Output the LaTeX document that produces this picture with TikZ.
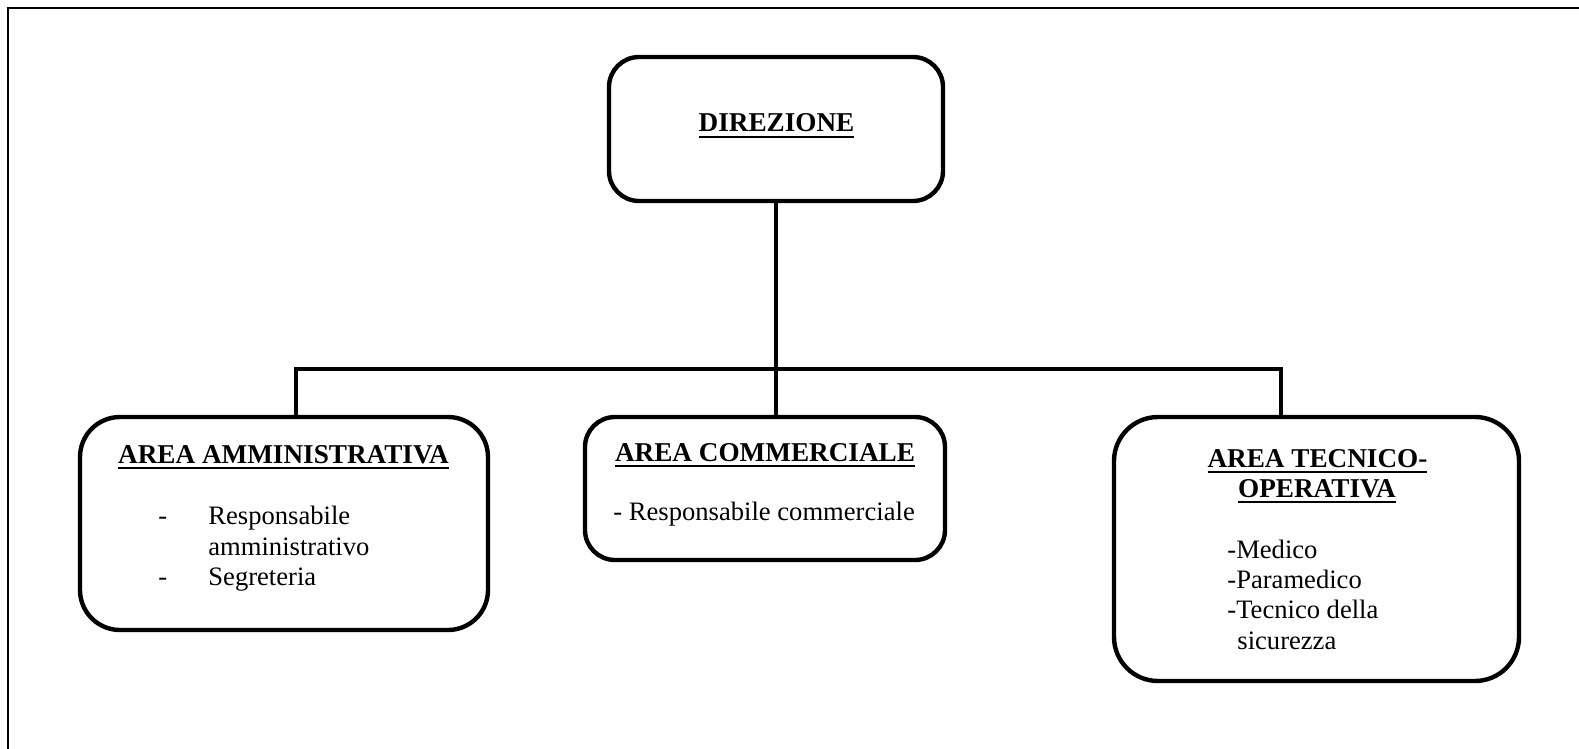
\documentclass[tikz,border=0pt]{standalone}
\usepackage{fontspec}
\setmainfont{Liberation Serif}
\newcommand\ulin[1]{\leavevmode\setbox0=\hbox{#1}\rlap{\copy0}\rule[-2.8pt]{\wd0}{1pt}}
\begin{document}
\begin{tikzpicture}[x=0.5pt,y=-0.5pt,
  orgbox/.style={draw, line width=2.2pt, inner sep=0pt},
  txt/.style={font=\fontsize{13.3}{15.25}\selectfont, inner sep=0pt},
  title/.style={txt, font=\fontsize{13.6}{15.25}\selectfont\bfseries, anchor=base},
  item/.style={txt, anchor=base west},
  link/.style={line width=2.4pt}]
\useasboundingbox (0,0) rectangle (1579,749);
% frame (top and left edges only)
\coordinate (fbl) at (8,749);
\coordinate (ftl) at (8,8);
\coordinate (ftr) at (1579,8);
\draw[line width=1.4pt] (fbl) -- (ftl) -- (ftr);
% boxes
\node[orgbox, rounded corners=15pt, minimum width=167pt, minimum height=72pt] (dir) at (776,129) {};
\node[orgbox, rounded corners=20pt, minimum width=204pt, minimum height=106.5pt] (amm) at (284,523.5) {};
\node[orgbox, rounded corners=15pt, minimum width=180pt, minimum height=71.5pt] (comm) at (765,488.5) {};
\node[orgbox, rounded corners=22pt, minimum width=202.5pt, minimum height=132pt] (tec) at (1316.5,549) {};
% connectors
\coordinate (busl) at (296,369);
\coordinate (busr) at (1281,369);
\draw[link] (busl |- amm.north) -- (busl) -- (busr) -- (busr |- tec.north);
\draw[link] (dir.south) -- (dir.south |- comm.north);
% texts
\node[title] (t1) at (776.5,132) {\ulin{DIREZIONE}};
\node[title] (t2) at (283.5,463) {\ulin{AREA AMMINISTRATIVA}};
\node[item] (a1d) at (158,524) {-};
\node[item] (a1) at (208,524) {Responsabile};
\node[item] (a2) at (208,555) {amministrativo};
\node[item] (a3d) at (158,585) {-};
\node[item] (a3) at (208,585) {Segreteria};
\node[title] (t3) at (765,461) {\ulin{AREA COMMERCIALE}};
\node[item] (c1) at (613,520) {- Responsabile commerciale};
\node[title] (t4) at (1317.5,467) {\ulin{AREA TECNICO-}};
\node[title] (t5) at (1317,497) {\ulin{OPERATIVA}};
\node[item] (m1) at (1227,558) {-Medico};
\node[item] (m2) at (1227,588) {-Paramedico};
\node[item] (m3) at (1227,618) {-Tecnico della};
\node[item] (m4) at (1237,649) {sicurezza};
\end{tikzpicture}
\end{document}
